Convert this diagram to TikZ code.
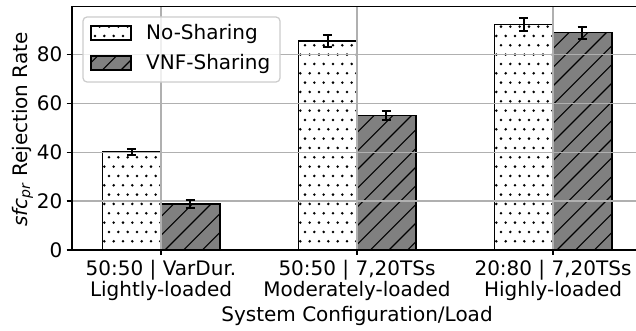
\documentclass[tikz,border=0pt]{standalone}
\usepackage{fontspec}
\setmainfont{DejaVu Sans}
\definecolor{gridgray}{HTML}{B0B0B0}
\definecolor{hatchgray}{HTML}{808080}
\definecolor{legendedge}{HTML}{CCCCCC}

% dotted fill on a global staggered lattice: #1=xl #2=yb #3=xr #4=yt
\newcommand\stipplebox[4]{%
  \begin{scope}
    \clip (#1,#2) rectangle (#3,#4);
    \pgfmathtruncatemacro\jlo{floor((#2-172.7)/9.333)-1}
    \pgfmathtruncatemacro\jhi{ceil((#4-172.7)/9.333)+1}
    \pgfmathtruncatemacro\ilo{floor((#1-109)/9.333)-1}
    \pgfmathtruncatemacro\ihi{ceil((#3-109)/9.333)+1}
    \foreach \j in {\jlo,...,\jhi}{
      \pgfmathsetmacro\yy{172.7+9.333*\j}
      \pgfmathsetmacro\sh{mod(abs(\j),2)*4.667}
      \foreach \i in {\ilo,...,\ihi}{
        \fill[black] (109+9.333*\i+\sh,\yy) circle (1.4);
      }
    }
  \end{scope}}

% 45-degree line hatching on a global grid: #1=xl #2=yb #3=xr #4=yt
\newcommand\hatchbox[4]{%
  \begin{scope}
    \clip (#1,#2) rectangle (#3,#4);
    \pgfmathtruncatemacro\klo{floor((#1-#4-85)/18.667)-1}
    \pgfmathtruncatemacro\khi{ceil((#3-#2-85)/18.667)+1}
    \foreach \k in {\klo,...,\khi}{
      \draw[black,line width=1.1pt] (#2+85+18.667*\k,#2) -- (#4+85+18.667*\k,#4);
    }
  \end{scope}}

\begin{document}
\begin{tikzpicture}[x=1pt,y=1pt,
  gridline/.style={draw=gridgray,line width=1.24pt},
  spine/.style={draw=black,line width=1.24pt,line cap=rect},
  tickmark/.style={draw=black,line width=1.24pt},
  baredge/.style={draw=black,line width=1.4pt},
  errbar/.style={draw=black,line width=1.9pt},
  lbl/.style={font=\fontsize{20}{24}\selectfont,inner sep=0pt,text=black},
]
\path[use as bounding box] (0,0) rectangle (636,330);
\clip (0,0) rectangle (636,330);

% ---- bars: No-Sharing (dotted, white) and VNF-Sharing (hatched, gray)
\foreach \xl/\xr/\yt in {102.2/161/178.0, 298.2/357/289.0, 494.2/553/305.4}{
  \fill[white] (\xl,80) rectangle (\xr,\yt);
  \stipplebox{\xl}{80}{\xr}{\yt}
  \draw[baredge] (\xl,80) rectangle (\xr,\yt);
}
\foreach \xl/\xr/\yt in {161/219.8/126.2, 357/415.8/214.5, 553/611.8/297.4}{
  \fill[hatchgray] (\xl,80) rectangle (\xr,\yt);
  \hatchbox{\xl}{80}{\xr}{\yt}
  \draw[baredge] (\xl,80) rectangle (\xr,\yt);
}

% ---- grid
\foreach \x in {161,357,553}{
  \draw[gridline] (\x,80) -- (\x,323.3);
}
\foreach \y in {128.9,177.8,226.7,275.6}{
  \draw[gridline] (72,\y) -- (636,\y);
}

% ---- error bars
\foreach \x/\lo/\hi in {131.6/175/181, 190.4/122.3/130,
                        327.6/283.3/295, 386.4/210/219,
                        523.6/299/311.7, 582.4/291.3/303.3}{
  \draw[errbar] (\x,\lo) -- (\x,\hi);
  \draw[errbar] (\x-4.7,\lo) -- (\x+4.7,\lo);
  \draw[errbar] (\x-4.7,\hi) -- (\x+4.7,\hi);
}

% ---- axes frame and ticks
\draw[spine] (72,323.3) -- (72,80) -- (640,80);
\draw[spine] (72,323.3) -- (640,323.3);
\foreach \y/\t in {80/0,128.9/20,177.8/40,226.7/60,275.6/80}{
  \draw[tickmark] (66.6,\y) -- (72,\y);
  \node[lbl,anchor=east] (yt\t) at (62.5,\y) {\t};
}
\foreach \x in {161,357,553}{
  \draw[tickmark] (\x,80) -- (\x,74.6);
}

% ---- category labels
\node[lbl,anchor=base] (c1a) at (161,55) {50:50 | VarDur.};
\node[lbl,anchor=base] (c1b) at (161,34) {Lightly-loaded};
\node[lbl,anchor=base] (c2a) at (357,55) {50:50 | 7,20TSs};
\node[lbl,anchor=base] (c2b) at (357,34) {Moderately-loaded};
\node[lbl,anchor=base] (c3a) at (553,55) {20:80 | 7,20TSs};
\node[lbl,anchor=base] (c3b) at (553,34) {Highly-loaded};

% ---- axis titles
\node[lbl,anchor=base] (xlab) at (357,8.3) {System Configuration/Load};
\node[lbl,anchor=base,rotate=90] (ylab) at (27,200.5)
  {{\itshape sfc\textsubscript{pr}} Rejection Rate};

% ---- legend
\draw[legendedge,line width=1.24pt,fill=white,fill opacity=0.8,rounded corners=4pt]
  (83,248) rectangle (280,313);
\fill[white] (91,290) rectangle (131,304);
\stipplebox{91}{290}{131}{304}
\draw[baredge,line width=1.3pt] (91,290) rectangle (131,304);
\fill[hatchgray] (91,260) rectangle (131,274);
\hatchbox{91}{260}{131}{274}
\draw[baredge,line width=1.3pt] (91,260) rectangle (131,274);
\node[lbl,anchor=base west] (leg1) at (146,290.5) {No-Sharing};
\node[lbl,anchor=base west] (leg2) at (146,260.7) {VNF-Sharing};
\end{tikzpicture}
\end{document}
